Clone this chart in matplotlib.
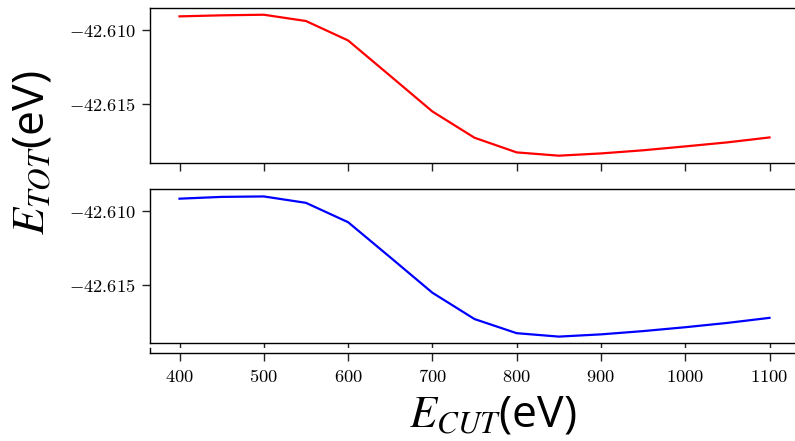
import numpy as np
import matplotlib
matplotlib.use("Agg")
import matplotlib.pyplot as plt
from matplotlib.ticker import FuncFormatter, MultipleLocator

# valores
ecut = [400, 450, 500, 550, 600, 650, 700, 750, 800, 850, 900, 950, 1000, 1050, 1100]
etot_rojo = [-42.60911, -42.60904, -42.60900, -42.60942, -42.61072, -42.61309, -42.61547,
             -42.61723, -42.61821, -42.61843, -42.61828, -42.61807, -42.61781, -42.61754, -42.61721]
etot_azul = [-42.60918, -42.60906, -42.60903, -42.60946, -42.61076, -42.61312, -42.61550,
             -42.61727, -42.61822, -42.61845, -42.61830, -42.61808, -42.61782, -42.61753, -42.61719]
xticks = [400, 500, 600, 700, 800, 900, 1000, 1100]

plt.rcParams['mathtext.fontset'] = 'cm'
plt.rcParams['axes.linewidth'] = 1.0

fig = plt.figure(figsize=(7.95, 4.41), dpi=100)
izq, ancho = 150 / 795, 649 / 795
ax1 = fig.add_axes([izq, 1 - 162.7 / 441, ancho, 154.7 / 441])
ax2 = fig.add_axes([izq, 1 - 343.3 / 441, ancho, 154 / 441])
ax3 = fig.add_axes([izq, 1 - 353 / 441, ancho, 5 / 441])

fmt = FuncFormatter(lambda v, p: r'$%.3f$' % v)

for ax, datos, color in [(ax1, etot_rojo, 'red'), (ax2, etot_azul, 'blue')]:
    ax.plot(ecut, datos, color=color, linewidth=1.6)
    ax.set_xlim(365, 1135)
    ax.set_ylim(-42.61890, -42.60855)
    ax.set_xticks(xticks)
    ax.set_xticklabels([])
    ax.yaxis.set_major_locator(MultipleLocator(0.005))
    ax.yaxis.set_major_formatter(fmt)
    ax.tick_params(axis='both', length=6, width=1.0, labelsize=13.3, pad=4.5, color='#222222')

ax3.set_xlim(365, 1135)
ax3.set_xticks(xticks)
ax3.xaxis.set_major_formatter(FuncFormatter(lambda v, p: r'$%d$' % v))
ax3.set_yticks([])
ax3.spines['top'].set_visible(False)
ax3.spines['right'].set_visible(False)
ax3.tick_params(axis='x', length=6, width=1.0, labelsize=13.3, pad=5, color='#222222')

fig.text(0.041, 0.653, r'$E_{TOT}$(eV)', rotation=90, ha='center', va='center',
         fontsize=32, family='Open Sans', math_fontfamily='stix')
fig.text(0.6195, 0.059, r'$E_{CUT}$(eV)', ha='center', va='center',
         fontsize=32, family='Open Sans', math_fontfamily='stix')

fig.savefig('out.png', dpi=100)
